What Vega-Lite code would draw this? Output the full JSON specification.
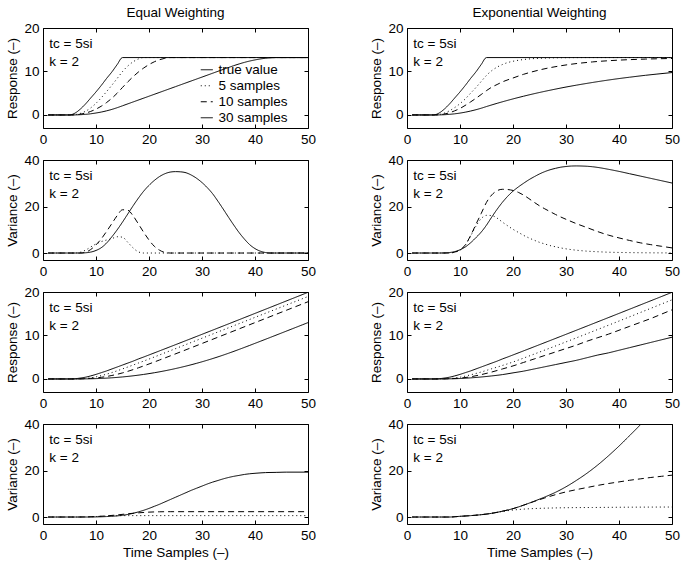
{
"$schema": "https://vega.github.io/schema/vega-lite/v6.json",
"background": "white",
"config": {
  "font": "Liberation Sans",
  "view": {"stroke": "black", "strokeWidth": 1},
  "axis": {"grid": false, "domain": false, "ticks": true, "tickColor": "black", "tickSize": -4, "tickWidth": 1, "labelColor": "black", "labelFont": "Liberation Sans", "labelFontSize": 13.5, "labelPadding": 8, "labelFlush": false, "titleColor": "black", "titleFont": "Liberation Sans", "titleFontSize": 13.5, "titleFontWeight": "normal", "titlePadding": 4},
  "title": {"fontSize": 13.5, "fontWeight": "normal", "font": "Liberation Sans", "color": "black", "offset": 2}
},
"bounds": "flush",
"columns": 2,
"spacing": {"row": 32, "column": 99},
"datasets": {
"p1": [
{"s":"true value","t":1,"v":0},{"s":"true value","t":5,"v":0},{"s":"true value","t":6,"v":0.4},{"s":"true value","t":7,"v":1.3},{"s":"true value","t":8,"v":2.5},{"s":"true value","t":9,"v":3.9},{"s":"true value","t":10,"v":5.3},{"s":"true value","t":11,"v":6.8},{"s":"true value","t":12,"v":8.4},{"s":"true value","t":13,"v":9.9},{"s":"true value","t":14,"v":11.6},{"s":"true value","t":15,"v":13.2},{"s":"true value","t":50,"v":13.2},
{"s":"5 samples","t":1,"v":0},{"s":"5 samples","t":5,"v":0},{"s":"5 samples","t":6,"v":0.08},{"s":"5 samples","t":7,"v":0.34},{"s":"5 samples","t":8,"v":0.84},{"s":"5 samples","t":9,"v":1.62},{"s":"5 samples","t":10,"v":2.68},{"s":"5 samples","t":11,"v":3.96},{"s":"5 samples","t":12,"v":5.38},{"s":"5 samples","t":13,"v":6.86},{"s":"5 samples","t":14,"v":8.4},{"s":"5 samples","t":15,"v":9.98},{"s":"5 samples","t":16,"v":11.26},{"s":"5 samples","t":17,"v":12.22},{"s":"5 samples","t":18,"v":12.88},{"s":"5 samples","t":19,"v":13.2},{"s":"5 samples","t":50,"v":13.2},
{"s":"10 samples","t":1,"v":0},{"s":"10 samples","t":5,"v":0},{"s":"10 samples","t":6,"v":0.04},{"s":"10 samples","t":7,"v":0.17},{"s":"10 samples","t":8,"v":0.42},{"s":"10 samples","t":9,"v":0.81},{"s":"10 samples","t":10,"v":1.34},{"s":"10 samples","t":11,"v":2.02},{"s":"10 samples","t":12,"v":2.86},{"s":"10 samples","t":13,"v":3.85},{"s":"10 samples","t":14,"v":5.01},{"s":"10 samples","t":15,"v":6.33},{"s":"10 samples","t":16,"v":7.61},{"s":"10 samples","t":17,"v":8.8},{"s":"10 samples","t":18,"v":9.87},{"s":"10 samples","t":19,"v":10.8},{"s":"10 samples","t":20,"v":11.59},{"s":"10 samples","t":21,"v":12.23},{"s":"10 samples","t":22,"v":12.71},{"s":"10 samples","t":23,"v":13.04},{"s":"10 samples","t":24,"v":13.2},{"s":"10 samples","t":50,"v":13.2},
{"s":"30 samples","t":1,"v":0},{"s":"30 samples","t":5,"v":0},{"s":"30 samples","t":6,"v":0.01},{"s":"30 samples","t":7,"v":0.06},{"s":"30 samples","t":8,"v":0.14},{"s":"30 samples","t":9,"v":0.27},{"s":"30 samples","t":10,"v":0.45},{"s":"30 samples","t":11,"v":0.67},{"s":"30 samples","t":12,"v":0.95},{"s":"30 samples","t":13,"v":1.28},{"s":"30 samples","t":14,"v":1.67},{"s":"30 samples","t":15,"v":2.11},{"s":"30 samples","t":20,"v":4.31},{"s":"30 samples","t":25,"v":6.51},{"s":"30 samples","t":30,"v":8.71},{"s":"30 samples","t":35,"v":10.91},{"s":"30 samples","t":36,"v":11.34},{"s":"30 samples","t":37,"v":11.73},{"s":"30 samples","t":38,"v":12.09},{"s":"30 samples","t":39,"v":12.4},{"s":"30 samples","t":40,"v":12.66},{"s":"30 samples","t":41,"v":12.88},{"s":"30 samples","t":42,"v":13.04},{"s":"30 samples","t":43,"v":13.15},{"s":"30 samples","t":44,"v":13.2},{"s":"30 samples","t":50,"v":13.2}
],
"p2": [
{"s":"true value","t":1,"v":0},{"s":"true value","t":5,"v":0},{"s":"true value","t":6,"v":0.4},{"s":"true value","t":7,"v":1.3},{"s":"true value","t":8,"v":2.5},{"s":"true value","t":9,"v":3.9},{"s":"true value","t":10,"v":5.3},{"s":"true value","t":11,"v":6.8},{"s":"true value","t":12,"v":8.4},{"s":"true value","t":13,"v":9.9},{"s":"true value","t":14,"v":11.6},{"s":"true value","t":15,"v":13.2},{"s":"true value","t":50,"v":13.2},
{"s":"5 samples","t":1,"v":0},{"s":"5 samples","t":5,"v":0},{"s":"5 samples","t":6,"v":0.1},{"s":"5 samples","t":7,"v":0.4},{"s":"5 samples","t":8,"v":0.95},{"s":"5 samples","t":9,"v":1.7},{"s":"5 samples","t":10,"v":2.6},{"s":"5 samples","t":11,"v":3.7},{"s":"5 samples","t":12,"v":5.0},{"s":"5 samples","t":13,"v":6.3},{"s":"5 samples","t":14,"v":7.7},{"s":"5 samples","t":15,"v":9.1},{"s":"5 samples","t":16,"v":10.2},{"s":"5 samples","t":17,"v":11.0},{"s":"5 samples","t":18,"v":11.6},{"s":"5 samples","t":19,"v":12.05},{"s":"5 samples","t":20,"v":12.35},{"s":"5 samples","t":22,"v":12.75},{"s":"5 samples","t":24,"v":12.97},{"s":"5 samples","t":26,"v":13.08},{"s":"5 samples","t":28,"v":13.14},{"s":"5 samples","t":30,"v":13.17},{"s":"5 samples","t":35,"v":13.2},{"s":"5 samples","t":50,"v":13.2},
{"s":"10 samples","t":1,"v":0},{"s":"10 samples","t":5,"v":0},{"s":"10 samples","t":6,"v":0.05},{"s":"10 samples","t":7,"v":0.2},{"s":"10 samples","t":8,"v":0.5},{"s":"10 samples","t":9,"v":0.95},{"s":"10 samples","t":10,"v":1.5},{"s":"10 samples","t":12,"v":3.0},{"s":"10 samples","t":14,"v":4.7},{"s":"10 samples","t":15,"v":5.6},{"s":"10 samples","t":16,"v":6.4},{"s":"10 samples","t":17,"v":7.0},{"s":"10 samples","t":18,"v":7.6},{"s":"10 samples","t":20,"v":8.5},{"s":"10 samples","t":22,"v":9.35},{"s":"10 samples","t":25,"v":10.35},{"s":"10 samples","t":30,"v":11.5},{"s":"10 samples","t":35,"v":12.2},{"s":"10 samples","t":40,"v":12.61},{"s":"10 samples","t":45,"v":12.85},{"s":"10 samples","t":50,"v":12.99},
{"s":"30 samples","t":1,"v":0},{"s":"30 samples","t":5,"v":0},{"s":"30 samples","t":6,"v":0.013},{"s":"30 samples","t":7,"v":0.056},{"s":"30 samples","t":8,"v":0.138},{"s":"30 samples","t":9,"v":0.263},{"s":"30 samples","t":10,"v":0.431},{"s":"30 samples","t":11,"v":0.643},{"s":"30 samples","t":12,"v":0.902},{"s":"30 samples","t":13,"v":1.202},{"s":"30 samples","t":14,"v":1.548},{"s":"30 samples","t":15,"v":1.937},{"s":"30 samples","t":17,"v":2.675},{"s":"30 samples","t":20,"v":3.69},{"s":"30 samples","t":22,"v":4.313},{"s":"30 samples","t":25,"v":5.17},{"s":"30 samples","t":27,"v":5.69},{"s":"30 samples","t":30,"v":6.42},{"s":"30 samples","t":32,"v":6.86},{"s":"30 samples","t":35,"v":7.47},{"s":"30 samples","t":37,"v":7.85},{"s":"30 samples","t":40,"v":8.37},{"s":"30 samples","t":42,"v":8.68},{"s":"30 samples","t":45,"v":9.12},{"s":"30 samples","t":47,"v":9.38},{"s":"30 samples","t":50,"v":9.75}
],
"p3": [
{"s":"5 samples","t":1,"v":0},{"s":"5 samples","t":6,"v":0},{"s":"5 samples","t":7,"v":0.3},{"s":"5 samples","t":8,"v":1.2},{"s":"5 samples","t":9,"v":2.6},{"s":"5 samples","t":10,"v":3.9},{"s":"5 samples","t":11,"v":4.9},{"s":"5 samples","t":12,"v":5.6},{"s":"5 samples","t":13,"v":6.2},{"s":"5 samples","t":14,"v":7.0},{"s":"5 samples","t":15,"v":6.8},{"s":"5 samples","t":16,"v":4.6},{"s":"5 samples","t":17,"v":2.2},{"s":"5 samples","t":18,"v":0.5},{"s":"5 samples","t":19,"v":0},{"s":"5 samples","t":50,"v":0},
{"s":"10 samples","t":1,"v":0},{"s":"10 samples","t":7,"v":0},{"s":"10 samples","t":8,"v":0.3},{"s":"10 samples","t":9,"v":1.5},{"s":"10 samples","t":10,"v":3.5},{"s":"10 samples","t":11,"v":6.1},{"s":"10 samples","t":12,"v":9.3},{"s":"10 samples","t":13,"v":12.7},{"s":"10 samples","t":14,"v":16.1},{"s":"10 samples","t":15,"v":18.6},{"s":"10 samples","t":16,"v":18.4},{"s":"10 samples","t":17,"v":16.0},{"s":"10 samples","t":18,"v":12.5},{"s":"10 samples","t":19,"v":8.9},{"s":"10 samples","t":20,"v":5.6},{"s":"10 samples","t":21,"v":2.9},{"s":"10 samples","t":22,"v":1.2},{"s":"10 samples","t":23,"v":0.25},{"s":"10 samples","t":24,"v":0},{"s":"10 samples","t":50,"v":0},
{"s":"30 samples","t":1,"v":0},{"s":"30 samples","t":7,"v":0},{"s":"30 samples","t":8,"v":0.1},{"s":"30 samples","t":9,"v":0.4},{"s":"30 samples","t":10,"v":1.1},{"s":"30 samples","t":11,"v":2.3},{"s":"30 samples","t":12,"v":4.3},{"s":"30 samples","t":13,"v":7.0},{"s":"30 samples","t":14,"v":10.0},{"s":"30 samples","t":15,"v":13.3},{"s":"30 samples","t":16,"v":16.8},{"s":"30 samples","t":17,"v":20.3},{"s":"30 samples","t":18,"v":23.6},{"s":"30 samples","t":19,"v":26.6},{"s":"30 samples","t":20,"v":29.1},{"s":"30 samples","t":21,"v":31.2},{"s":"30 samples","t":22,"v":32.9},{"s":"30 samples","t":23,"v":34.1},{"s":"30 samples","t":24,"v":34.8},{"s":"30 samples","t":25,"v":35.0},{"s":"30 samples","t":26,"v":34.9},{"s":"30 samples","t":27,"v":34.5},{"s":"30 samples","t":28,"v":33.5},{"s":"30 samples","t":29,"v":32.1},{"s":"30 samples","t":30,"v":30.3},{"s":"30 samples","t":31,"v":28.1},{"s":"30 samples","t":32,"v":25.5},{"s":"30 samples","t":33,"v":22.3},{"s":"30 samples","t":34,"v":18.9},{"s":"30 samples","t":35,"v":15.4},{"s":"30 samples","t":36,"v":12.0},{"s":"30 samples","t":37,"v":8.8},{"s":"30 samples","t":38,"v":6.0},{"s":"30 samples","t":39,"v":3.6},{"s":"30 samples","t":40,"v":1.9},{"s":"30 samples","t":41,"v":0.8},{"s":"30 samples","t":42,"v":0.2},{"s":"30 samples","t":43,"v":0},{"s":"30 samples","t":50,"v":0}
],
"p4": [
{"s":"5 samples","t":1,"v":0},{"s":"5 samples","t":8,"v":0},{"s":"5 samples","t":9,"v":0.4},{"s":"5 samples","t":10,"v":1.2},{"s":"5 samples","t":11,"v":3.4},{"s":"5 samples","t":12,"v":7.3},{"s":"5 samples","t":13,"v":11.5},{"s":"5 samples","t":14,"v":14.8},{"s":"5 samples","t":15,"v":16.2},{"s":"5 samples","t":16,"v":16.1},{"s":"5 samples","t":17,"v":15.0},{"s":"5 samples","t":18,"v":13.3},{"s":"5 samples","t":19,"v":11.7},{"s":"5 samples","t":20,"v":10.2},{"s":"5 samples","t":21,"v":8.9},{"s":"5 samples","t":22,"v":7.6},{"s":"5 samples","t":23,"v":6.5},{"s":"5 samples","t":24,"v":5.5},{"s":"5 samples","t":25,"v":4.6},{"s":"5 samples","t":26,"v":3.9},{"s":"5 samples","t":27,"v":3.2},{"s":"5 samples","t":28,"v":2.7},{"s":"5 samples","t":29,"v":2.2},{"s":"5 samples","t":30,"v":1.8},{"s":"5 samples","t":32,"v":1.2},{"s":"5 samples","t":34,"v":0.8},{"s":"5 samples","t":36,"v":0.55},{"s":"5 samples","t":38,"v":0.35},{"s":"5 samples","t":40,"v":0.25},{"s":"5 samples","t":45,"v":0.1},{"s":"5 samples","t":50,"v":0.05},
{"s":"10 samples","t":1,"v":0},{"s":"10 samples","t":8,"v":0},{"s":"10 samples","t":9,"v":0.4},{"s":"10 samples","t":10,"v":1.3},{"s":"10 samples","t":11,"v":3.5},{"s":"10 samples","t":12,"v":7.5},{"s":"10 samples","t":13,"v":12.3},{"s":"10 samples","t":14,"v":17.0},{"s":"10 samples","t":15,"v":21.8},{"s":"10 samples","t":16,"v":25.0},{"s":"10 samples","t":17,"v":26.8},{"s":"10 samples","t":18,"v":27.4},{"s":"10 samples","t":19,"v":27.3},{"s":"10 samples","t":20,"v":26.9},{"s":"10 samples","t":21,"v":26.1},{"s":"10 samples","t":22,"v":24.9},{"s":"10 samples","t":23,"v":23.4},{"s":"10 samples","t":24,"v":21.8},{"s":"10 samples","t":25,"v":20.3},{"s":"10 samples","t":26,"v":19.0},{"s":"10 samples","t":27,"v":17.8},{"s":"10 samples","t":28,"v":16.6},{"s":"10 samples","t":29,"v":15.5},{"s":"10 samples","t":30,"v":14.5},{"s":"10 samples","t":32,"v":12.6},{"s":"10 samples","t":34,"v":10.9},{"s":"10 samples","t":36,"v":9.2},{"s":"10 samples","t":38,"v":7.7},{"s":"10 samples","t":40,"v":6.5},{"s":"10 samples","t":42,"v":5.4},{"s":"10 samples","t":44,"v":4.4},{"s":"10 samples","t":46,"v":3.6},{"s":"10 samples","t":48,"v":2.9},{"s":"10 samples","t":50,"v":2.2},
{"s":"30 samples","t":1,"v":0},{"s":"30 samples","t":6,"v":0},{"s":"30 samples","t":7,"v":0.05},{"s":"30 samples","t":8,"v":0.2},{"s":"30 samples","t":9,"v":0.6},{"s":"30 samples","t":10,"v":1.4},{"s":"30 samples","t":11,"v":2.6},{"s":"30 samples","t":12,"v":4.4},{"s":"30 samples","t":13,"v":6.6},{"s":"30 samples","t":14,"v":9.0},{"s":"30 samples","t":15,"v":12.0},{"s":"30 samples","t":16,"v":15.5},{"s":"30 samples","t":17,"v":18.8},{"s":"30 samples","t":18,"v":21.8},{"s":"30 samples","t":19,"v":24.4},{"s":"30 samples","t":20,"v":26.6},{"s":"30 samples","t":21,"v":28.4},{"s":"30 samples","t":22,"v":30.0},{"s":"30 samples","t":23,"v":31.5},{"s":"30 samples","t":24,"v":32.8},{"s":"30 samples","t":25,"v":34.0},{"s":"30 samples","t":26,"v":35.0},{"s":"30 samples","t":27,"v":35.8},{"s":"30 samples","t":28,"v":36.4},{"s":"30 samples","t":29,"v":36.9},{"s":"30 samples","t":30,"v":37.2},{"s":"30 samples","t":31,"v":37.4},{"s":"30 samples","t":32,"v":37.45},{"s":"30 samples","t":33,"v":37.4},{"s":"30 samples","t":34,"v":37.3},{"s":"30 samples","t":35,"v":37.1},{"s":"30 samples","t":36,"v":36.8},{"s":"30 samples","t":38,"v":36.0},{"s":"30 samples","t":40,"v":35.1},{"s":"30 samples","t":42,"v":34.1},{"s":"30 samples","t":44,"v":33.1},{"s":"30 samples","t":46,"v":32.1},{"s":"30 samples","t":48,"v":31.1},{"s":"30 samples","t":50,"v":30.1}
],
"p5": [
{"s":"true value","t":1,"v":0},{"s":"true value","t":5,"v":0},{"s":"true value","t":6,"v":0.05},{"s":"true value","t":7,"v":0.2},{"s":"true value","t":8,"v":0.4},{"s":"true value","t":9,"v":0.7},{"s":"true value","t":10,"v":1.05},{"s":"true value","t":11,"v":1.45},{"s":"true value","t":12,"v":1.85},{"s":"true value","t":13,"v":2.3},{"s":"true value","t":14,"v":2.75},{"s":"true value","t":15,"v":3.2},{"s":"true value","t":16,"v":3.65},{"s":"true value","t":17,"v":4.1},{"s":"true value","t":18,"v":4.6},{"s":"true value","t":19,"v":5.05},{"s":"true value","t":20,"v":5.52},{"s":"true value","t":50,"v":19.92},
{"s":"5 samples","t":1,"v":0},{"s":"5 samples","t":5,"v":0},{"s":"5 samples","t":6,"v":0.01},{"s":"5 samples","t":7,"v":0.05},{"s":"5 samples","t":8,"v":0.13},{"s":"5 samples","t":9,"v":0.27},{"s":"5 samples","t":10,"v":0.48},{"s":"5 samples","t":11,"v":0.77},{"s":"5 samples","t":12,"v":1.1},{"s":"5 samples","t":13,"v":1.47},{"s":"5 samples","t":14,"v":1.88},{"s":"5 samples","t":15,"v":2.31},{"s":"5 samples","t":16,"v":2.75},{"s":"5 samples","t":17,"v":3.2},{"s":"5 samples","t":18,"v":3.66},{"s":"5 samples","t":19,"v":4.12},{"s":"5 samples","t":20,"v":4.58},{"s":"5 samples","t":21,"v":5.05},{"s":"5 samples","t":22,"v":5.53},{"s":"5 samples","t":50,"v":18.96},
{"s":"10 samples","t":1,"v":0},{"s":"10 samples","t":5,"v":0},{"s":"10 samples","t":6,"v":0.005},{"s":"10 samples","t":7,"v":0.025},{"s":"10 samples","t":8,"v":0.065},{"s":"10 samples","t":9,"v":0.135},{"s":"10 samples","t":10,"v":0.24},{"s":"10 samples","t":11,"v":0.385},{"s":"10 samples","t":12,"v":0.57},{"s":"10 samples","t":13,"v":0.8},{"s":"10 samples","t":14,"v":1.075},{"s":"10 samples","t":15,"v":1.395},{"s":"10 samples","t":16,"v":1.755},{"s":"10 samples","t":17,"v":2.145},{"s":"10 samples","t":18,"v":2.565},{"s":"10 samples","t":19,"v":3.0},{"s":"10 samples","t":20,"v":3.447},{"s":"10 samples","t":22,"v":4.365},{"s":"10 samples","t":24,"v":5.3},{"s":"10 samples","t":26,"v":6.247},{"s":"10 samples","t":28,"v":7.2},{"s":"10 samples","t":30,"v":8.16},{"s":"10 samples","t":50,"v":17.76},
{"s":"30 samples","t":1,"v":0},{"s":"30 samples","t":5,"v":0},{"s":"30 samples","t":7,"v":0.008},{"s":"30 samples","t":9,"v":0.045},{"s":"30 samples","t":11,"v":0.128},{"s":"30 samples","t":13,"v":0.267},{"s":"30 samples","t":15,"v":0.465},{"s":"30 samples","t":17,"v":0.723},{"s":"30 samples","t":19,"v":1.045},{"s":"30 samples","t":21,"v":1.429},{"s":"30 samples","t":23,"v":1.877},{"s":"30 samples","t":25,"v":2.389},{"s":"30 samples","t":27,"v":2.965},{"s":"30 samples","t":29,"v":3.605},{"s":"30 samples","t":31,"v":4.309},{"s":"30 samples","t":33,"v":5.077},{"s":"30 samples","t":35,"v":5.909},{"s":"30 samples","t":37,"v":6.797},{"s":"30 samples","t":39,"v":7.72},{"s":"30 samples","t":41,"v":8.661},{"s":"30 samples","t":43,"v":9.61},{"s":"30 samples","t":45,"v":10.564},{"s":"30 samples","t":47,"v":11.522},{"s":"30 samples","t":49,"v":12.48},{"s":"30 samples","t":50,"v":12.96}
],
"p6": [
{"s":"true value","t":1,"v":0},{"s":"true value","t":5,"v":0},{"s":"true value","t":6,"v":0.05},{"s":"true value","t":7,"v":0.2},{"s":"true value","t":8,"v":0.4},{"s":"true value","t":9,"v":0.7},{"s":"true value","t":10,"v":1.05},{"s":"true value","t":11,"v":1.45},{"s":"true value","t":12,"v":1.85},{"s":"true value","t":13,"v":2.3},{"s":"true value","t":14,"v":2.75},{"s":"true value","t":15,"v":3.2},{"s":"true value","t":16,"v":3.65},{"s":"true value","t":17,"v":4.1},{"s":"true value","t":18,"v":4.6},{"s":"true value","t":19,"v":5.05},{"s":"true value","t":20,"v":5.52},{"s":"true value","t":50,"v":19.92},
{"s":"5 samples","t":1,"v":0},{"s":"5 samples","t":5,"v":0},{"s":"5 samples","t":6,"v":0.01},{"s":"5 samples","t":7,"v":0.04},{"s":"5 samples","t":8,"v":0.1},{"s":"5 samples","t":9,"v":0.2},{"s":"5 samples","t":10,"v":0.4},{"s":"5 samples","t":12,"v":0.95},{"s":"5 samples","t":14,"v":1.6},{"s":"5 samples","t":16,"v":2.35},{"s":"5 samples","t":18,"v":3.1},{"s":"5 samples","t":20,"v":3.9},{"s":"5 samples","t":22,"v":4.8},{"s":"5 samples","t":24,"v":5.72},{"s":"5 samples","t":50,"v":18.2},
{"s":"10 samples","t":1,"v":0},{"s":"10 samples","t":5,"v":0},{"s":"10 samples","t":7,"v":0.02},{"s":"10 samples","t":8,"v":0.05},{"s":"10 samples","t":10,"v":0.2},{"s":"10 samples","t":12,"v":0.5},{"s":"10 samples","t":14,"v":1.0},{"s":"10 samples","t":16,"v":1.6},{"s":"10 samples","t":18,"v":2.3},{"s":"10 samples","t":20,"v":3.0},{"s":"10 samples","t":22,"v":3.8},{"s":"10 samples","t":24,"v":4.6},{"s":"10 samples","t":26,"v":5.4},{"s":"10 samples","t":28,"v":6.2},{"s":"10 samples","t":30,"v":7.0},{"s":"10 samples","t":32,"v":7.8},{"s":"10 samples","t":34,"v":8.7},{"s":"10 samples","t":36,"v":9.5},{"s":"10 samples","t":38,"v":10.3},{"s":"10 samples","t":40,"v":11.2},{"s":"10 samples","t":42,"v":12.1},{"s":"10 samples","t":44,"v":13.0},{"s":"10 samples","t":46,"v":13.9},{"s":"10 samples","t":48,"v":14.9},{"s":"10 samples","t":50,"v":15.9},
{"s":"30 samples","t":1,"v":0},{"s":"30 samples","t":5,"v":0},{"s":"30 samples","t":8,"v":0.03},{"s":"30 samples","t":10,"v":0.1},{"s":"30 samples","t":12,"v":0.25},{"s":"30 samples","t":14,"v":0.45},{"s":"30 samples","t":16,"v":0.7},{"s":"30 samples","t":18,"v":1.0},{"s":"30 samples","t":20,"v":1.4},{"s":"30 samples","t":22,"v":1.8},{"s":"30 samples","t":24,"v":2.3},{"s":"30 samples","t":26,"v":2.8},{"s":"30 samples","t":28,"v":3.3},{"s":"30 samples","t":30,"v":3.8},{"s":"30 samples","t":32,"v":4.3},{"s":"30 samples","t":34,"v":4.9},{"s":"30 samples","t":36,"v":5.5},{"s":"30 samples","t":38,"v":6.0},{"s":"30 samples","t":40,"v":6.6},{"s":"30 samples","t":42,"v":7.2},{"s":"30 samples","t":44,"v":7.8},{"s":"30 samples","t":46,"v":8.4},{"s":"30 samples","t":48,"v":9.0},{"s":"30 samples","t":50,"v":9.6}
],
"p7": [
{"s":"5 samples","t":1,"v":0},{"s":"5 samples","t":6,"v":0},{"s":"5 samples","t":8,"v":0.05},{"s":"5 samples","t":10,"v":0.2},{"s":"5 samples","t":12,"v":0.45},{"s":"5 samples","t":14,"v":0.55},{"s":"5 samples","t":16,"v":0.6},{"s":"5 samples","t":50,"v":0.6},
{"s":"10 samples","t":1,"v":0},{"s":"10 samples","t":6,"v":0},{"s":"10 samples","t":8,"v":0.05},{"s":"10 samples","t":10,"v":0.2},{"s":"10 samples","t":12,"v":0.5},{"s":"10 samples","t":14,"v":0.9},{"s":"10 samples","t":16,"v":1.4},{"s":"10 samples","t":18,"v":1.8},{"s":"10 samples","t":20,"v":2.1},{"s":"10 samples","t":22,"v":2.25},{"s":"10 samples","t":24,"v":2.3},{"s":"10 samples","t":50,"v":2.3},
{"s":"30 samples","t":1,"v":0},{"s":"30 samples","t":8,"v":0},{"s":"30 samples","t":10,"v":0.05},{"s":"30 samples","t":12,"v":0.2},{"s":"30 samples","t":14,"v":0.5},{"s":"30 samples","t":15,"v":0.75},{"s":"30 samples","t":16,"v":1.1},{"s":"30 samples","t":17,"v":1.6},{"s":"30 samples","t":18,"v":2.2},{"s":"30 samples","t":19,"v":2.9},{"s":"30 samples","t":20,"v":3.7},{"s":"30 samples","t":21,"v":4.6},{"s":"30 samples","t":22,"v":5.5},{"s":"30 samples","t":23,"v":6.5},{"s":"30 samples","t":24,"v":7.5},{"s":"30 samples","t":25,"v":8.5},{"s":"30 samples","t":26,"v":9.5},{"s":"30 samples","t":27,"v":10.5},{"s":"30 samples","t":28,"v":11.5},{"s":"30 samples","t":29,"v":12.4},{"s":"30 samples","t":30,"v":13.3},{"s":"30 samples","t":31,"v":14.2},{"s":"30 samples","t":32,"v":15.0},{"s":"30 samples","t":33,"v":15.7},{"s":"30 samples","t":34,"v":16.4},{"s":"30 samples","t":35,"v":17.0},{"s":"30 samples","t":36,"v":17.5},{"s":"30 samples","t":37,"v":17.9},{"s":"30 samples","t":38,"v":18.3},{"s":"30 samples","t":39,"v":18.6},{"s":"30 samples","t":40,"v":18.8},{"s":"30 samples","t":42,"v":19.1},{"s":"30 samples","t":44,"v":19.2},{"s":"30 samples","t":46,"v":19.3},{"s":"30 samples","t":50,"v":19.3}
],
"p8": [
{"s":"5 samples","t":1,"v":0},{"s":"5 samples","t":8,"v":0},{"s":"5 samples","t":10,"v":0.3},{"s":"5 samples","t":12,"v":0.6},{"s":"5 samples","t":14,"v":1.0},{"s":"5 samples","t":16,"v":1.6},{"s":"5 samples","t":18,"v":2.4},{"s":"5 samples","t":20,"v":3.0},{"s":"5 samples","t":22,"v":3.4},{"s":"5 samples","t":24,"v":3.65},{"s":"5 samples","t":26,"v":3.8},{"s":"5 samples","t":30,"v":4.0},{"s":"5 samples","t":35,"v":4.1},{"s":"5 samples","t":40,"v":4.2},{"s":"5 samples","t":50,"v":4.3},
{"s":"10 samples","t":1,"v":0},{"s":"10 samples","t":8,"v":0},{"s":"10 samples","t":10,"v":0.3},{"s":"10 samples","t":12,"v":0.6},{"s":"10 samples","t":14,"v":1.0},{"s":"10 samples","t":16,"v":1.6},{"s":"10 samples","t":18,"v":2.5},{"s":"10 samples","t":20,"v":3.6},{"s":"10 samples","t":22,"v":5.1},{"s":"10 samples","t":24,"v":6.7},{"s":"10 samples","t":26,"v":8.2},{"s":"10 samples","t":28,"v":9.6},{"s":"10 samples","t":30,"v":10.8},{"s":"10 samples","t":32,"v":11.8},{"s":"10 samples","t":34,"v":12.7},{"s":"10 samples","t":36,"v":13.6},{"s":"10 samples","t":38,"v":14.4},{"s":"10 samples","t":40,"v":15.1},{"s":"10 samples","t":42,"v":15.8},{"s":"10 samples","t":44,"v":16.4},{"s":"10 samples","t":46,"v":17.0},{"s":"10 samples","t":48,"v":17.5},{"s":"10 samples","t":50,"v":18.0},
{"s":"30 samples","t":1,"v":0},{"s":"30 samples","t":8,"v":0},{"s":"30 samples","t":10,"v":0.3},{"s":"30 samples","t":12,"v":0.6},{"s":"30 samples","t":14,"v":1.0},{"s":"30 samples","t":16,"v":1.6},{"s":"30 samples","t":18,"v":2.5},{"s":"30 samples","t":20,"v":3.6},{"s":"30 samples","t":22,"v":5.1},{"s":"30 samples","t":24,"v":6.8},{"s":"30 samples","t":26,"v":8.6},{"s":"30 samples","t":28,"v":10.6},{"s":"30 samples","t":30,"v":13.0},{"s":"30 samples","t":32,"v":15.8},{"s":"30 samples","t":34,"v":18.9},{"s":"30 samples","t":36,"v":22.4},{"s":"30 samples","t":38,"v":26.3},{"s":"30 samples","t":40,"v":30.5},{"s":"30 samples","t":42,"v":35.0},{"s":"30 samples","t":44,"v":39.6},{"s":"30 samples","t":46,"v":44.5},{"s":"30 samples","t":48,"v":49.6},{"s":"30 samples","t":50,"v":55.0}
]
},
"concat": [
 {"width": 265, "height": 100, "title": "Equal Weighting", "data": {"name": "p1"},
  "resolve": {"axis": {"x": "independent", "y": "independent"}},
  "layer": [
   {"mark": {"type": "line", "color": "black", "strokeWidth": 1, "clip": true, "interpolate": "monotone"},
    "encoding": {
     "x": {"field": "t", "type": "quantitative", "scale": {"domain": [0, 50], "nice": false}, "axis": {"values": [0, 10, 20, 30, 40, 50], "title": null}},
     "y": {"field": "v", "type": "quantitative", "scale": {"domain": [-3, 20], "nice": false}, "axis": {"values": [0, 10, 20], "title": "Response (–)"}},
     "strokeDash": {"field": "s", "type": "nominal", "scale": {"domain": ["true value", "5 samples", "10 samples", "30 samples"], "range": [[1, 0], [1, 3], [6, 4], [1, 0]]},
       "legend": {"orient": "none", "legendX": 157, "legendY": 35, "title": null, "symbolType": "stroke", "symbolSize": 144, "symbolStrokeColor": "black", "symbolStrokeWidth": 1, "labelFontSize": 13.5, "labelFont": "Liberation Sans", "labelColor": "black", "labelOffset": 5, "rowPadding": 1, "padding": 0}}
    }},
   {"data": {"values": [{}]},
    "mark": {"type": "text", "align": "left", "baseline": "alphabetic", "fontSize": 13.5, "lineHeight": 18, "font": "Liberation Sans", "color": "black"},
    "encoding": {
     "x": {"datum": 1.2, "type": "quantitative", "scale": {"domain": [0, 50], "nice": false}, "axis": {"orient": "top", "values": [0, 10, 20, 30, 40, 50], "labels": false, "title": null}},
     "y": {"datum": 15.5, "type": "quantitative", "scale": {"domain": [-3, 20], "nice": false}, "axis": {"orient": "right", "values": [0, 10, 20], "labels": false, "title": null}},
     "text": {"value": ["tc = 5si", "k = 2"]}
    }}
  ]},
 {"width": 265, "height": 100, "title": "Exponential Weighting", "data": {"name": "p2"},
  "resolve": {"axis": {"x": "independent", "y": "independent"}},
  "layer": [
   {"mark": {"type": "line", "color": "black", "strokeWidth": 1, "clip": true, "interpolate": "monotone"},
    "encoding": {
     "x": {"field": "t", "type": "quantitative", "scale": {"domain": [0, 50], "nice": false}, "axis": {"values": [0, 10, 20, 30, 40, 50], "title": null}},
     "y": {"field": "v", "type": "quantitative", "scale": {"domain": [-3, 20], "nice": false}, "axis": {"values": [0, 10, 20], "title": "Response (–)"}},
     "strokeDash": {"field": "s", "type": "nominal", "scale": {"domain": ["true value", "5 samples", "10 samples", "30 samples"], "range": [[1, 0], [1, 3], [6, 4], [1, 0]]}, "legend": null}
    }},
   {"data": {"values": [{}]},
    "mark": {"type": "text", "align": "left", "baseline": "alphabetic", "fontSize": 13.5, "lineHeight": 18, "font": "Liberation Sans", "color": "black"},
    "encoding": {
     "x": {"datum": 1.2, "type": "quantitative", "scale": {"domain": [0, 50], "nice": false}, "axis": {"orient": "top", "values": [0, 10, 20, 30, 40, 50], "labels": false, "title": null}},
     "y": {"datum": 15.5, "type": "quantitative", "scale": {"domain": [-3, 20], "nice": false}, "axis": {"orient": "right", "values": [0, 10, 20], "labels": false, "title": null}},
     "text": {"value": ["tc = 5si", "k = 2"]}
    }}
  ]},
 {"width": 265, "height": 100, "data": {"name": "p3"},
  "resolve": {"axis": {"x": "independent", "y": "independent"}},
  "layer": [
   {"mark": {"type": "line", "color": "black", "strokeWidth": 1, "clip": true, "interpolate": "monotone"},
    "encoding": {
     "x": {"field": "t", "type": "quantitative", "scale": {"domain": [0, 50], "nice": false}, "axis": {"values": [0, 10, 20, 30, 40, 50], "title": null}},
     "y": {"field": "v", "type": "quantitative", "scale": {"domain": [-3, 40], "nice": false}, "axis": {"values": [0, 20, 40], "title": "Variance (–)"}},
     "strokeDash": {"field": "s", "type": "nominal", "scale": {"domain": ["true value", "5 samples", "10 samples", "30 samples"], "range": [[1, 0], [1, 3], [6, 4], [1, 0]]}, "legend": null}
    }},
   {"data": {"values": [{}]},
    "mark": {"type": "text", "align": "left", "baseline": "alphabetic", "fontSize": 13.5, "lineHeight": 18, "font": "Liberation Sans", "color": "black"},
    "encoding": {
     "x": {"datum": 1.2, "type": "quantitative", "scale": {"domain": [0, 50], "nice": false}, "axis": {"orient": "top", "values": [0, 10, 20, 30, 40, 50], "labels": false, "title": null}},
     "y": {"datum": 31.5, "type": "quantitative", "scale": {"domain": [-3, 40], "nice": false}, "axis": {"orient": "right", "values": [0, 20, 40], "labels": false, "title": null}},
     "text": {"value": ["tc = 5si", "k = 2"]}
    }}
  ]},
 {"width": 265, "height": 100, "data": {"name": "p4"},
  "resolve": {"axis": {"x": "independent", "y": "independent"}},
  "layer": [
   {"mark": {"type": "line", "color": "black", "strokeWidth": 1, "clip": true, "interpolate": "monotone"},
    "encoding": {
     "x": {"field": "t", "type": "quantitative", "scale": {"domain": [0, 50], "nice": false}, "axis": {"values": [0, 10, 20, 30, 40, 50], "title": null}},
     "y": {"field": "v", "type": "quantitative", "scale": {"domain": [-3, 40], "nice": false}, "axis": {"values": [0, 20, 40], "title": "Variance (–)"}},
     "strokeDash": {"field": "s", "type": "nominal", "scale": {"domain": ["true value", "5 samples", "10 samples", "30 samples"], "range": [[1, 0], [1, 3], [6, 4], [1, 0]]}, "legend": null}
    }},
   {"data": {"values": [{}]},
    "mark": {"type": "text", "align": "left", "baseline": "alphabetic", "fontSize": 13.5, "lineHeight": 18, "font": "Liberation Sans", "color": "black"},
    "encoding": {
     "x": {"datum": 1.2, "type": "quantitative", "scale": {"domain": [0, 50], "nice": false}, "axis": {"orient": "top", "values": [0, 10, 20, 30, 40, 50], "labels": false, "title": null}},
     "y": {"datum": 31.5, "type": "quantitative", "scale": {"domain": [-3, 40], "nice": false}, "axis": {"orient": "right", "values": [0, 20, 40], "labels": false, "title": null}},
     "text": {"value": ["tc = 5si", "k = 2"]}
    }}
  ]},
 {"width": 265, "height": 100, "data": {"name": "p5"},
  "resolve": {"axis": {"x": "independent", "y": "independent"}},
  "layer": [
   {"mark": {"type": "line", "color": "black", "strokeWidth": 1, "clip": true, "interpolate": "monotone"},
    "encoding": {
     "x": {"field": "t", "type": "quantitative", "scale": {"domain": [0, 50], "nice": false}, "axis": {"values": [0, 10, 20, 30, 40, 50], "title": null}},
     "y": {"field": "v", "type": "quantitative", "scale": {"domain": [-3, 20], "nice": false}, "axis": {"values": [0, 10, 20], "title": "Response (–)"}},
     "strokeDash": {"field": "s", "type": "nominal", "scale": {"domain": ["true value", "5 samples", "10 samples", "30 samples"], "range": [[1, 0], [1, 3], [6, 4], [1, 0]]}, "legend": null}
    }},
   {"data": {"values": [{}]},
    "mark": {"type": "text", "align": "left", "baseline": "alphabetic", "fontSize": 13.5, "lineHeight": 18, "font": "Liberation Sans", "color": "black"},
    "encoding": {
     "x": {"datum": 1.2, "type": "quantitative", "scale": {"domain": [0, 50], "nice": false}, "axis": {"orient": "top", "values": [0, 10, 20, 30, 40, 50], "labels": false, "title": null}},
     "y": {"datum": 15.5, "type": "quantitative", "scale": {"domain": [-3, 20], "nice": false}, "axis": {"orient": "right", "values": [0, 10, 20], "labels": false, "title": null}},
     "text": {"value": ["tc = 5si", "k = 2"]}
    }}
  ]},
 {"width": 265, "height": 100, "data": {"name": "p6"},
  "resolve": {"axis": {"x": "independent", "y": "independent"}},
  "layer": [
   {"mark": {"type": "line", "color": "black", "strokeWidth": 1, "clip": true, "interpolate": "monotone"},
    "encoding": {
     "x": {"field": "t", "type": "quantitative", "scale": {"domain": [0, 50], "nice": false}, "axis": {"values": [0, 10, 20, 30, 40, 50], "title": null}},
     "y": {"field": "v", "type": "quantitative", "scale": {"domain": [-3, 20], "nice": false}, "axis": {"values": [0, 10, 20], "title": "Response (–)"}},
     "strokeDash": {"field": "s", "type": "nominal", "scale": {"domain": ["true value", "5 samples", "10 samples", "30 samples"], "range": [[1, 0], [1, 3], [6, 4], [1, 0]]}, "legend": null}
    }},
   {"data": {"values": [{}]},
    "mark": {"type": "text", "align": "left", "baseline": "alphabetic", "fontSize": 13.5, "lineHeight": 18, "font": "Liberation Sans", "color": "black"},
    "encoding": {
     "x": {"datum": 1.2, "type": "quantitative", "scale": {"domain": [0, 50], "nice": false}, "axis": {"orient": "top", "values": [0, 10, 20, 30, 40, 50], "labels": false, "title": null}},
     "y": {"datum": 15.5, "type": "quantitative", "scale": {"domain": [-3, 20], "nice": false}, "axis": {"orient": "right", "values": [0, 10, 20], "labels": false, "title": null}},
     "text": {"value": ["tc = 5si", "k = 2"]}
    }}
  ]},
 {"width": 265, "height": 100, "data": {"name": "p7"},
  "resolve": {"axis": {"x": "independent", "y": "independent"}},
  "layer": [
   {"mark": {"type": "line", "color": "black", "strokeWidth": 1, "clip": true, "interpolate": "monotone"},
    "encoding": {
     "x": {"field": "t", "type": "quantitative", "scale": {"domain": [0, 50], "nice": false}, "axis": {"values": [0, 10, 20, 30, 40, 50], "title": "Time Samples (–)"}},
     "y": {"field": "v", "type": "quantitative", "scale": {"domain": [-3, 40], "nice": false}, "axis": {"values": [0, 20, 40], "title": "Variance (–)"}},
     "strokeDash": {"field": "s", "type": "nominal", "scale": {"domain": ["true value", "5 samples", "10 samples", "30 samples"], "range": [[1, 0], [1, 3], [6, 4], [1, 0]]}, "legend": null}
    }},
   {"data": {"values": [{}]},
    "mark": {"type": "text", "align": "left", "baseline": "alphabetic", "fontSize": 13.5, "lineHeight": 18, "font": "Liberation Sans", "color": "black"},
    "encoding": {
     "x": {"datum": 1.2, "type": "quantitative", "scale": {"domain": [0, 50], "nice": false}, "axis": {"orient": "top", "values": [0, 10, 20, 30, 40, 50], "labels": false, "title": null}},
     "y": {"datum": 31.5, "type": "quantitative", "scale": {"domain": [-3, 40], "nice": false}, "axis": {"orient": "right", "values": [0, 20, 40], "labels": false, "title": null}},
     "text": {"value": ["tc = 5si", "k = 2"]}
    }}
  ]},
 {"width": 265, "height": 100, "data": {"name": "p8"},
  "resolve": {"axis": {"x": "independent", "y": "independent"}},
  "layer": [
   {"mark": {"type": "line", "color": "black", "strokeWidth": 1, "clip": true, "interpolate": "monotone"},
    "encoding": {
     "x": {"field": "t", "type": "quantitative", "scale": {"domain": [0, 50], "nice": false}, "axis": {"values": [0, 10, 20, 30, 40, 50], "title": "Time Samples (–)"}},
     "y": {"field": "v", "type": "quantitative", "scale": {"domain": [-3, 40], "nice": false}, "axis": {"values": [0, 20, 40], "title": "Variance (–)"}},
     "strokeDash": {"field": "s", "type": "nominal", "scale": {"domain": ["true value", "5 samples", "10 samples", "30 samples"], "range": [[1, 0], [1, 3], [6, 4], [1, 0]]}, "legend": null}
    }},
   {"data": {"values": [{}]},
    "mark": {"type": "text", "align": "left", "baseline": "alphabetic", "fontSize": 13.5, "lineHeight": 18, "font": "Liberation Sans", "color": "black"},
    "encoding": {
     "x": {"datum": 1.2, "type": "quantitative", "scale": {"domain": [0, 50], "nice": false}, "axis": {"orient": "top", "values": [0, 10, 20, 30, 40, 50], "labels": false, "title": null}},
     "y": {"datum": 31.5, "type": "quantitative", "scale": {"domain": [-3, 40], "nice": false}, "axis": {"orient": "right", "values": [0, 20, 40], "labels": false, "title": null}},
     "text": {"value": ["tc = 5si", "k = 2"]}
    }}
  ]}
]
}
